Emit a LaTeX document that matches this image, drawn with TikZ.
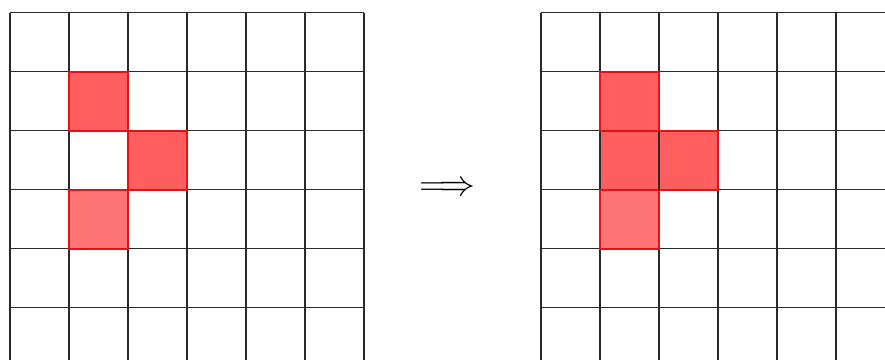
\documentclass[tikz,border=0pt]{standalone}
\usepackage{tikz}
\usetikzlibrary{positioning}
\definecolor{gridgray}{HTML}{2A2A2A}
\definecolor{cellred}{HTML}{FF5E5E}
\definecolor{cellpale}{HTML}{FF7474}
\definecolor{celledge}{HTML}{E01418}

\begin{document}
\begin{tikzpicture}[
  x=1cm, y=1cm,
  gridln/.style={draw=gridgray, line width=0.65pt},
  hot/.style={fill=cellred, draw=celledge, line width=0.9pt},
  pale/.style={fill=cellpale, draw=celledge, line width=0.9pt},
]
  \useasboundingbox (0,0) rectangle (15,-6.1);
  \clip (0,0) rectangle (15,-6.1);
  % left board
  \begin{scope}[shift={(0.17,-0.215)}]
    \fill[hot]  (1,-1) rectangle (2,-2);
    \fill[hot]  (2,-2) rectangle (3,-3);
    \fill[pale] (1,-3) rectangle (2,-4);
    \foreach \i in {0,...,6} {
      \draw[gridln] (\i,0) -- (\i,-6);
      \draw[gridln] (0,-\i) -- (6,-\i);
    }
    \draw[hot, fill=none]  (1,-1) rectangle (2,-2);
    \draw[hot, fill=none]  (2,-2) rectangle (3,-3);
    \draw[pale, fill=none] (1,-3) rectangle (2,-4);
  \end{scope}
  % right board
  \begin{scope}[shift={(9.17,-0.215)}]
    \fill[hot]  (1,-1) rectangle (2,-2);
    \fill[hot]  (1,-2) rectangle (2,-3);
    \fill[hot]  (2,-2) rectangle (3,-3);
    \fill[pale] (1,-3) rectangle (2,-4);
    \foreach \i in {0,...,6} {
      \draw[gridln] (\i,0) -- (\i,-6);
      \draw[gridln] (0,-\i) -- (6,-\i);
    }
    \draw[hot, fill=none]  (1,-1) rectangle (2,-2);
    \draw[hot, fill=none]  (2,-2) rectangle (3,-3);
    \draw[pale, fill=none] (1,-3) rectangle (2,-4);
    \draw[gridln] (2,-2) -- (2,-3);
  \end{scope}
  \node[font=\fontsize{16}{19}\selectfont, inner sep=0pt] (imp) at (7.58,-3.2) {$\Longrightarrow$};
\end{tikzpicture}
\end{document}
